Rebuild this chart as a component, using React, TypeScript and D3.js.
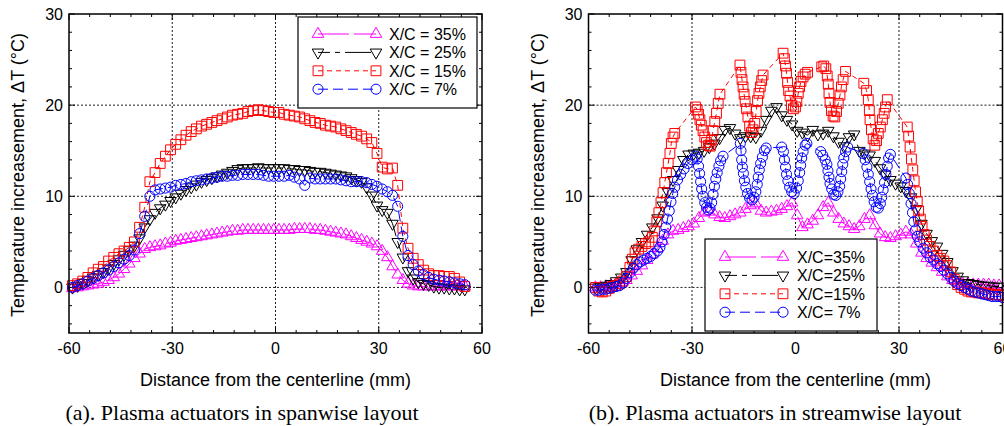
import React, { useEffect, useRef } from 'react';
import * as d3 from 'd3';

// (a) spanwise layout: shared x positions (mm) and the four profiles
const spanX = [-59, -57.5, -56, -54.5, -53, -51.5, -50, -48.5, -47, -45.5, -44, -42.5, -41, -39.5, -38, -36.5, -35, -33.5, -32, -30.5,
  -29, -27.5, -26, -24.5, -23, -21.5, -20, -18.5, -17, -15.5, -14, -12.5, -11, -9.5, -8, -6.5, -5, -3.5, -2, -0.5,
  1, 2.5, 4, 5.5, 7, 8.5, 10, 11.5, 13, 14.5, 16, 17.5, 19, 20.5, 22, 23.5, 25, 26.5, 28, 29.5,
  31, 32.5, 34, 35.5, 37, 38.5, 40, 41.5, 43, 44.5, 46, 47.5, 49, 50.5, 52, 53.5, 55];
const span35 = [-0.1, 0.0, 0.1, 0.2, 0.3, 0.4, 0.6, 0.8, 1.1, 1.5, 2.0, 2.6, 3.2, 3.7, 4.2, 4.4, 4.5, 4.6, 4.8, 4.9,
  5.1, 5.2, 5.3, 5.4, 5.5, 5.6, 5.7, 5.8, 5.9, 6.0, 6.1, 6.2, 6.2, 6.3, 6.3, 6.3, 6.3, 6.3, 6.3, 6.3,
  6.3, 6.3, 6.3, 6.4, 6.4, 6.4, 6.4, 6.3, 6.3, 6.2, 6.1, 6.0, 5.9, 5.8, 5.6, 5.4, 5.2, 5.0, 4.8, 4.5,
  4.0, 3.3, 2.3, 1.4, 0.8, 0.4, 0.2, 0.1, 0.1, 0.1, 0.1, 0.1, 0.1, 0.1, 0.1, 0.1, 0.1];
const span25 = [0.0, 0.2, 0.5, 0.8, 1.1, 1.4, 1.7, 2.1, 2.6, 3.1, 3.6, 4.1, 4.6, 5.4, 6.6, 7.5, 8.2, 8.7, 9.1, 9.5,
  9.9, 10.3, 10.7, 11.0, 11.3, 11.6, 11.8, 12.0, 12.2, 12.4, 12.6, 12.8, 13.0, 13.1, 13.1, 13.1, 13.2, 13.1, 13.1, 13.1,
  13.1, 13.1, 13.0, 13.0, 12.9, 12.9, 12.8, 12.7, 12.7, 12.6, 12.5, 12.4, 12.3, 12.2, 12.0, 11.8, 11.6, 11.0, 10.1, 9.0,
  8.5, 8.2, 7.0, 5.0, 3.3, 1.8, 1.0, 0.6, 0.4, 0.3, 0.1, 0.0, 0.0, -0.1, -0.1, -0.2, -0.2];
const span15 = [0.2, 0.4, 0.7, 1.1, 1.6, 2.0, 2.3, 2.9, 3.3, 3.7, 4.0, 4.4, 5.0, 6.6, 8.8, 11.6, 12.6, 13.6, 14.4, 15.1,
  15.7, 16.2, 16.7, 17.1, 17.4, 17.7, 17.9, 18.1, 18.3, 18.5, 18.7, 18.9, 19.0, 19.1, 19.3, 19.4, 19.5, 19.4, 19.3, 19.2,
  19.2, 19.0, 18.9, 18.8, 18.7, 18.5, 18.3, 18.1, 18.0, 17.8, 17.7, 17.6, 17.4, 17.2, 17.0, 16.8, 16.6, 16.3, 15.9, 14.7,
  13.2, 13.0, 13.1, 11.2, 6.5, 4.3, 3.2, 2.5, 1.9, 1.5, 1.3, 1.3, 1.2, 1.2, 1.0, 0.6, 0.1];
const span7 = [0.0, 0.2, 0.4, 0.7, 1.0, 1.3, 1.6, 1.9, 2.3, 2.7, 3.1, 3.5, 4.1, 5.9, 7.8, 10.0, 10.7, 10.8, 10.9, 11.0,
  11.2, 11.3, 11.4, 11.6, 11.7, 11.8, 11.9, 12.0, 12.1, 12.2, 12.2, 12.3, 12.3, 12.4, 12.4, 12.4, 12.4, 12.3, 12.2, 12.2,
  12.2, 12.2, 12.3, 12.1, 11.9, 11.2, 12.0, 11.9, 11.9, 11.9, 11.9, 11.9, 11.8, 11.7, 11.6, 11.6, 11.6, 11.5, 11.3, 11.1,
  10.8, 10.5, 10.1, 8.9, 5.6, 3.5, 2.5, 1.8, 1.4, 1.1, 0.9, 0.8, 0.7, 0.6, 0.5, 0.4, 0.3];

// (b) streamwise layout
const streamX = [-58, -56.5, -55, -53.5, -52, -50.5, -49, -47.5, -46, -44.5, -43, -41.5, -40, -38.5, -37, -35.5, -34, -32.5, -31, -29.5,
  -28, -26.5, -25, -23.5, -22, -20.5, -19, -17.5, -16, -14.5, -13, -11.5, -10, -8.5, -7, -5.5, -4, -2.5, -1, 0.5,
  2, 3.5, 5, 6.5, 8, 9.5, 11, 12.5, 14, 15.5, 17, 18.5, 20, 21.5, 23, 24.5, 26, 27.5, 29, 30.5,
  32, 33.5, 35, 36.5, 38, 39.5, 41, 42.5, 44, 45.5, 47, 48.5, 50, 51.5, 53, 54.5, 56, 57.5, 59];
const stream35 = [0.0, 0.0, 0.1, 0.2, 0.3, 0.5, 0.8, 1.3, 1.8, 2.4, 3.0, 3.6, 4.3, 5.1, 5.8, 6.2, 6.3, 6.5, 6.7, 7.0,
  7.6, 8.2, 8.3, 8.0, 7.7, 7.6, 7.8, 8.0, 8.2, 8.6, 9.0, 9.2, 8.4, 8.2, 8.3, 8.4, 8.6, 8.9, 9.3, 7.9,
  6.6, 6.9, 7.3, 7.9, 8.8, 9.3, 8.2, 7.5, 7.0, 6.7, 6.4, 6.7, 7.5, 7.9, 6.8, 5.9, 5.5, 5.4, 5.6, 5.8,
  6.1, 5.8, 4.8, 3.8, 3.2, 2.7, 2.2, 1.7, 1.2, 0.8, 0.5, 0.4, 0.4, 0.3, 0.3, 0.3, 0.3, 0.2, 0.2];
const stream25 = [0.0, 0.1, 0.2, 0.4, 0.7, 1.1, 1.7, 3.0, 4.2, 5.0, 5.8, 6.6, 7.6, 9.0, 10.5, 11.8, 12.9, 14.0, 14.6, 14.7,
  14.8, 15.0, 15.4, 15.8, 16.4, 17.3, 17.5, 16.9, 16.4, 16.6, 16.6, 16.5, 17.2, 18.4, 19.4, 19.8, 18.9, 18.4, 17.9, 17.2,
  17.0, 16.7, 17.3, 16.8, 16.9, 17.2, 16.6, 16.0, 15.5, 16.5, 16.8, 15.0, 14.7, 14.5, 13.9, 13.1, 12.4, 11.8, 11.4, 11.1,
  10.6, 9.9, 8.6, 7.0, 5.9, 5.1, 4.5, 3.7, 2.8, 1.8, 1.2, 0.8, 0.5, 0.4, 0.3, 0.2, 0.2, 0.1, 0.1];
// the 15% and 7% traces are sampled unevenly, so they keep their own x values
const stream15 = [[-58, 0.0], [-57, -0.4], [-56, -0.5], [-55, -0.4], [-54, -0.1], [-53, 0.1], [-52, 0.2], [-51, 0.4], [-50, 0.7], [-49, 1.2],
  [-48, 2.2], [-47.3, 3.1], [-46.5, 3.8], [-45.5, 4.2], [-44.5, 4.5], [-43.5, 4.8], [-42.5, 5.0], [-41.5, 5.5], [-40.8, 6.2], [-40.2, 7.2],
  [-39.6, 8.2], [-39, 9.3], [-38.4, 10.4], [-37.9, 11.5], [-37.4, 12.6], [-36.9, 13.6], [-36.4, 14.7], [-36, 15.8], [-35.5, 16.5], [-35, 16.9],
  [-29, 19.8], [-28.5, 19.5], [-28.1, 19.0], [-27.7, 18.4], [-27.3, 17.8], [-26.8, 17.2], [-26.3, 16.5], [-25.8, 15.9], [-25.2, 15.6], [-24.7, 15.5],
  [-24.3, 16.2], [-23.9, 17.2], [-23.4, 18.2], [-22.9, 19.1], [-22.4, 20.2], [-21.9, 21.2],
  [-16.1, 24.4], [-15.8, 23.6], [-15.5, 22.8], [-15.2, 22.0], [-14.9, 21.2], [-14.6, 20.4], [-14.2, 19.6], [-13.8, 18.7], [-13.3, 17.7], [-12.8, 17.0],
  [-12.3, 17.3], [-11.8, 18.0], [-11.4, 19.3], [-11, 20.5], [-10.6, 21.3], [-10.2, 22.0], [-9.8, 22.7], [-9.4, 23.3],
  [-3.6, 25.7], [-3.2, 25.1], [-2.9, 24.3], [-2.6, 23.5], [-2.3, 22.5], [-2, 21.6], [-1.6, 21.0], [-1.2, 20.0], [-0.6, 19.6], [0, 19.8],
  [0.4, 20.4], [0.8, 21.3], [1.2, 22.0], [1.6, 22.6], [2.2, 23.1], [2.8, 23.4], [3.5, 23.6],
  [7.6, 24.2], [8.2, 24.3], [8.8, 24.0], [9.2, 23.2], [9.5, 22.3], [9.7, 21.3], [10, 20.3], [10.4, 19.4], [10.9, 18.8], [11.4, 18.7],
  [11.9, 19.3], [12.4, 20.2], [12.9, 21.1], [13.3, 22.0], [13.8, 22.8], [14.5, 23.7],
  [19.8, 22.4], [20.6, 21.6], [21.1, 20.6], [21.4, 19.4], [21.6, 18.4], [22, 17.3], [22.5, 16.3], [23, 15.6], [23.5, 16.1], [24, 16.9],
  [24.6, 17.6], [25.2, 18.4], [25.7, 19.1], [26.1, 19.8], [26.6, 20.6],
  [32.4, 17.6], [32.8, 16.6], [33.2, 15.4], [33.6, 14.1], [34, 12.9], [34.4, 11.7], [34.8, 10.5], [35.3, 9.4], [35.7, 8.4], [36.2, 7.5],
  [36.7, 6.7], [37.3, 5.8], [38, 5.2], [39, 4.5], [40, 4.0], [41, 3.5], [42, 3.2], [43, 2.9], [44, 2.4], [45, 1.7],
  [46, 0.9], [47, 0.3], [48, 0.0], [49, -0.2], [50, -0.4], [51, -0.5], [52, -0.5], [53, -0.6], [54, -0.6], [55, -0.7],
  [56, -0.7], [57, -0.8], [58, -0.8], [59, -0.8], [60, -0.9]];
const stream7 = [[-58, -0.3], [-57, -0.3], [-56, -0.2], [-55, -0.2], [-54, -0.1], [-53, 0.0], [-52, 0.1], [-51, 0.2], [-50, 0.5], [-49, 1.0],
  [-48, 1.6], [-47, 2.1], [-46, 2.5], [-45, 2.8], [-44, 3.0], [-43, 3.2], [-42, 3.4], [-41, 3.7], [-40, 4.0], [-39.3, 4.4],
  [-38.7, 5.0], [-38.1, 5.8], [-37.6, 6.6], [-37.1, 7.5], [-36.6, 8.4], [-36.1, 9.4], [-35.6, 10.3], [-35, 11.0], [-34.2, 11.8], [-33.3, 12.4],
  [-32.3, 13.0], [-31.2, 13.6], [-30, 14.0], [-29, 14.4], [-28.5, 14.1], [-28.1, 13.3], [-27.8, 12.5], [-27.5, 11.6], [-27.2, 10.8], [-26.8, 10.0],
  [-26.3, 9.3], [-25.8, 8.8], [-25.3, 8.5], [-24.8, 8.7], [-24.3, 9.3], [-23.9, 10.2], [-23.5, 11.1], [-23.1, 11.9], [-22.7, 12.6], [-22.2, 13.3],
  [-21.7, 13.9], [-21, 14.4],
  [-16, 15.8], [-15.8, 15.0], [-15.6, 14.0], [-15.4, 13.2], [-15.1, 12.5], [-14.8, 11.7], [-14.4, 11.0], [-13.9, 10.3], [-13.3, 9.8], [-12.6, 9.6],
  [-12, 9.9], [-11.5, 10.5], [-11.1, 11.3], [-10.8, 12.1], [-10.5, 12.9], [-10.1, 13.6], [-9.6, 14.3], [-9, 15.0], [-8.5, 15.3],
  [-4, 15.4], [-3.5, 14.9], [-3.2, 14.0], [-2.9, 13.2], [-2.6, 12.4], [-2.2, 11.7], [-1.7, 11.0], [-1.1, 10.5], [-0.4, 10.3], [0.3, 10.9],
  [0.8, 11.7], [1.2, 12.6], [1.5, 13.4], [1.8, 14.2], [2.2, 14.9], [2.8, 15.6], [3.3, 15.8],
  [7.3, 14.9], [7.9, 14.5], [8.6, 14.0], [9.1, 13.5], [9.4, 12.8], [9.7, 12.1], [10, 11.4], [10.5, 10.8], [11.1, 10.2], [11.7, 10.1],
  [12.3, 10.5], [12.8, 11.1], [13.1, 11.9], [13.4, 12.7], [13.7, 13.5], [14, 14.2], [14.5, 14.9], [15.1, 15.4],
  [19.6, 14.7], [20.2, 14.0], [20.7, 13.2], [21.1, 12.4], [21.5, 11.6], [21.9, 10.8], [22.3, 10.1], [22.8, 9.4], [23.4, 8.8], [24, 8.7],
  [24.6, 9.2], [25, 9.9], [25.4, 10.7], [25.8, 11.5], [26.2, 12.4], [26.6, 13.3], [27, 14.2], [27.5, 14.6],
  [32, 12.0], [32.5, 11.3], [33, 10.3], [33.5, 9.2], [33.9, 8.2], [34.3, 7.2], [34.8, 6.3], [35.3, 5.6], [36, 5.0], [37, 4.3],
  [38, 3.8], [39, 3.3], [40, 3.0], [41, 2.6], [42, 2.3], [43, 1.9], [44, 1.5], [45, 1.1], [46, 0.7], [47, 0.4],
  [48, 0.2], [49, 0.0], [50, -0.2], [51, -0.4], [52, -0.5], [53, -0.6], [54, -0.7], [55, -0.8], [56, -0.9], [57, -1.0],
  [58, -1.0], [59, -1.0], [60, -1.1]];

const xTicks = [-60, -30, 0, 30, 60];
const yTicks = [0, 10, 20, 30];
const xGrid = [-30, 0, 30];
const yGrid = [0, 10, 20];
const legendA = ['X/C = 35%', 'X/C = 25%', 'X/C = 15%', 'X/C = 7%'];
const legendB = ['X/C=35%', 'X/C=25%', 'X/C=15%', 'X/C= 7%'];

// marker / line style per series, same order as the legends
const styles = [
  { color: '#ff00ff', shape: 'up', dash: '31,5' },
  { color: '#000000', shape: 'down', dash: '12,5,5,5,26,5' },
  { color: '#ff0000', shape: 'square', dash: '5,4' },
  { color: '#0000ff', shape: 'circle', dash: '10,5' },
];

const SANS = '"Liberation Sans", Arial, Helvetica, sans-serif';
const SERIF = '"Liberation Serif", "Times New Roman", serif';

const markerPath = (shape) => {
  if (shape === 'square') return d3.symbol(d3.symbolSquare, 96)();
  if (shape === 'circle') return d3.symbol(d3.symbolCircle, 80)();
  return d3.symbol(d3.symbolTriangle, 58)();
};

const markerTransform = (shape, px, py) =>
  `translate(${px},${py})` + (shape === 'down' ? ' rotate(180)' : '');

function drawPanel(root, p) {
  const x = d3.scaleLinear().domain([-60, 60]).range([p.left, p.right]);
  const y = d3.scaleLinear().domain([-5, 30]).range([p.bottom, p.top]);
  const g = root.append('g');

  // dotted grid
  g.append('g').selectAll('line').data(xGrid).join('line')
    .attr('x1', d => x(d)).attr('x2', d => x(d))
    .attr('y1', p.top).attr('y2', p.bottom);
  g.append('g').selectAll('line').data(yGrid).join('line')
    .attr('x1', p.left).attr('x2', p.right)
    .attr('y1', d => y(d)).attr('y2', d => y(d));
  g.selectAll('line')
    .attr('stroke', '#000').attr('stroke-width', 0.9).attr('stroke-dasharray', '2,2');

  // inward ticks on all four sides
  const ticks = g.append('g').attr('stroke', '#000').attr('stroke-width', 1);
  const xMinor = d3.range(-60, 61, 6);
  const yMinor = d3.range(-4, 31, 2);
  xMinor.forEach(v => {
    const len = v % 30 === 0 ? 6 : 3;
    ticks.append('line').attr('x1', x(v)).attr('x2', x(v)).attr('y1', p.bottom).attr('y2', p.bottom - len);
    ticks.append('line').attr('x1', x(v)).attr('x2', x(v)).attr('y1', p.top).attr('y2', p.top + len);
  });
  yMinor.forEach(v => {
    const len = v % 10 === 0 ? 6 : 3;
    ticks.append('line').attr('x1', p.left).attr('x2', p.left + len).attr('y1', y(v)).attr('y2', y(v));
    ticks.append('line').attr('x1', p.right).attr('x2', p.right - len).attr('y1', y(v)).attr('y2', y(v));
  });

  // series: dashed connecting line, then hollow markers
  const line = d3.line().x(d => x(d[0])).y(d => y(d[1]));
  p.series.forEach((s, i) => {
    const st = styles[i];
    g.append('path').datum(s)
      .attr('d', line)
      .attr('fill', 'none')
      .attr('stroke', st.color)
      .attr('stroke-width', 1)
      .attr('stroke-dasharray', st.dash);
    const sym = markerPath(st.shape);
    g.append('g').selectAll('path').data(s).join('path')
      .attr('d', sym)
      .attr('transform', d => markerTransform(st.shape, x(d[0]), y(d[1])))
      .attr('fill', 'none')
      .attr('stroke', st.color)
      .attr('stroke-width', 1);
  });

  // frame
  g.append('rect')
    .attr('x', p.left).attr('y', p.top)
    .attr('width', p.right - p.left).attr('height', p.bottom - p.top)
    .attr('fill', 'none').attr('stroke', '#000').attr('stroke-width', 1.5);

  // tick labels
  g.append('g').selectAll('text').data(xTicks).join('text')
    .attr('x', d => x(d)).attr('y', p.bottom + 21)
    .attr('text-anchor', 'middle')
    .attr('font-family', SANS).attr('font-size', 16)
    .text(d => d);
  g.append('g').selectAll('text').data(yTicks).join('text')
    .attr('x', p.left - 6).attr('y', d => y(d))
    .attr('dy', '0.35em')
    .attr('text-anchor', 'end')
    .attr('font-family', SANS).attr('font-size', 16)
    .text(d => d);

  // axis titles and caption
  g.append('text')
    .attr('x', (p.left + p.right) / 2).attr('y', p.bottom + 53)
    .attr('text-anchor', 'middle')
    .attr('font-family', SANS).attr('font-size', 18)
    .text('Distance from the centerline (mm)');
  g.append('text')
    .attr('transform', `translate(${p.left - 45},${175}) rotate(-90)`)
    .attr('text-anchor', 'middle')
    .attr('font-family', SANS).attr('font-size', 18)
    .text('Temperature increasement, \u0394T (\u00b0C)');
  g.append('text')
    .attr('x', p.captionX).attr('y', 420)
    .attr('text-anchor', 'middle')
    .attr('font-family', SERIF).attr('font-size', 22)
    .text(p.caption);

  // legend
  const lg = p.legend;
  const leg = g.append('g');
  leg.append('rect')
    .attr('x', lg.x).attr('y', lg.y).attr('width', lg.w).attr('height', lg.h)
    .attr('fill', '#fff').attr('stroke', '#000').attr('stroke-width', 1.2);
  lg.labels.forEach((label, i) => {
    const st = styles[i];
    const ry = lg.y + lg.firstRow + i * lg.step;
    leg.append('line')
      .attr('x1', lg.x1).attr('x2', lg.x2).attr('y1', ry).attr('y2', ry)
      .attr('stroke', st.color).attr('stroke-width', 1).attr('stroke-dasharray', st.dash);
    const sym = markerPath(st.shape);
    [lg.x1, lg.x2].forEach(mx => {
      leg.append('path')
        .attr('d', sym)
        .attr('transform', markerTransform(st.shape, mx, ry))
        .attr('fill', 'none').attr('stroke', st.color).attr('stroke-width', 1);
    });
    leg.append('text')
      .attr('x', lg.textX).attr('y', ry).attr('dy', '0.36em')
      .attr('font-family', SANS).attr('font-size', 16)
      .text(label);
  });
}

const App = () => {
  const svgRef = useRef(null);

  useEffect(() => {
    const svg = d3.select(svgRef.current);
    svg.selectAll('*').remove();

    const pairs = (xs, ys) => xs.map((v, i) => [v, ys[i]]);

    drawPanel(svg, {
      left: 69, right: 482, top: 14, bottom: 333,
      series: [pairs(spanX, span35), pairs(spanX, span25), pairs(spanX, span15), pairs(spanX, span7)],
      caption: '(a). Plasma actuators in spanwise layout',
      captionX: 242,
      legend: { x: 298, y: 17, w: 179, h: 91, firstRow: 17, step: 18.4, x1: 318, x2: 376, textX: 389, labels: legendA },
    });

    drawPanel(svg, {
      left: 588.5, right: 1002.5, top: 14, bottom: 333,
      series: [pairs(streamX, stream35), pairs(streamX, stream25), stream15, stream7],
      caption: '(b). Plasma actuators in streamwise layout',
      captionX: 775,
      legend: { x: 705, y: 239, w: 172, h: 92, firstRow: 18, step: 18.4, x1: 725, x2: 783, textX: 797, labels: legendB },
    });
  }, []);

  return (
    <svg
      ref={svgRef}
      width={1004}
      height={426}
      style={{ position: 'absolute', left: 0, top: 0, background: '#fff' }}
    />
  );
};

export default App;
